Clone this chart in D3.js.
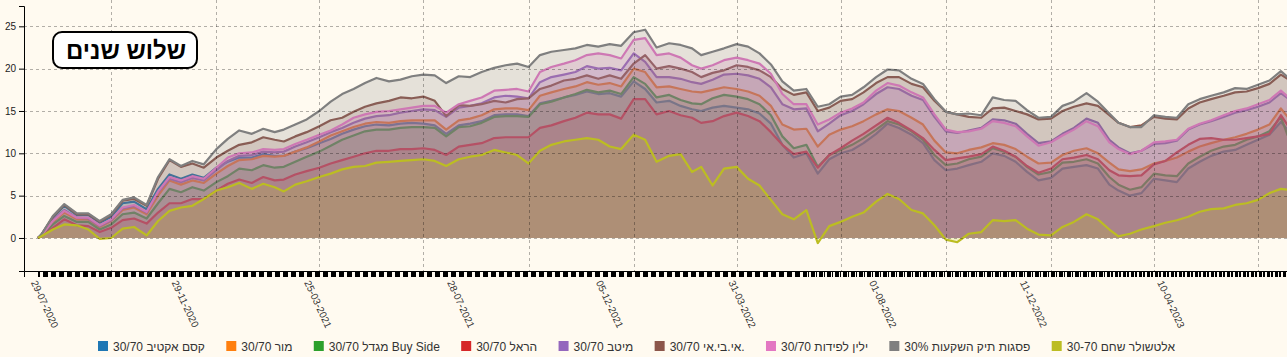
<!DOCTYPE html>
<html><head><meta charset="utf-8">
<script src="https://cdn.jsdelivr.net/npm/d3@7"></script>
<style>
body{margin:0;background:#fffaf0;overflow:hidden}
svg{display:block;font-family:"Liberation Sans",Arial,sans-serif}
</style>
</head><body>
<svg id="c" width="1287" height="357"></svg>
<script>
// ---------- DATA ----------
const dates = ["2020-07-29","2020-08-01","2020-08-11","2020-08-21","2020-09-01","2020-09-11","2020-09-21","2020-10-01","2020-10-11","2020-10-21",
"2020-11-01","2020-11-11","2020-11-21","2020-12-01","2020-12-11","2020-12-21","2021-01-01","2021-01-11","2021-01-21","2021-02-01",
"2021-02-11","2021-02-21","2021-03-01","2021-03-11","2021-03-21","2021-04-01","2021-04-11","2021-04-21","2021-05-01","2021-05-11",
"2021-05-21","2021-06-01","2021-06-11","2021-06-21","2021-07-01","2021-07-11","2021-07-21","2021-08-01","2021-08-11","2021-08-21",
"2021-09-01","2021-09-11","2021-09-21","2021-10-01","2021-10-11","2021-10-21","2021-11-01","2021-11-11","2021-11-21","2021-12-01",
"2021-12-11","2021-12-21","2022-01-01","2022-01-11","2022-01-21","2022-02-01","2022-02-11","2022-02-21","2022-03-01","2022-03-11",
"2022-03-21","2022-04-01","2022-04-11","2022-04-21","2022-05-01","2022-05-11","2022-05-21","2022-06-01","2022-06-11","2022-06-21",
"2022-07-01","2022-07-11","2022-07-21","2022-08-01","2022-08-11","2022-08-21","2022-09-01","2022-09-11","2022-09-21","2022-10-01",
"2022-10-11","2022-10-21","2022-11-01","2022-11-11","2022-11-21","2022-12-01","2022-12-11","2022-12-21","2023-01-01","2023-01-11",
"2023-01-21","2023-02-01","2023-02-11","2023-02-21","2023-03-01","2023-03-11","2023-03-21","2023-04-01","2023-04-11","2023-04-21",
"2023-05-01","2023-05-11","2023-05-21","2023-06-01","2023-06-11","2023-06-21","2023-07-01","2023-07-11","2023-07-21","2023-07-27"];

const seriesNames = ["30/70 קסם אקטיב","30/70 מור","30/70 מגדל Buy Side","30/70 הראל","30/70 מיטב",
"30/70 אי.בי.אי.","30/70 ילין לפידות","30% פסגות תיק השקעות","30-70 אלטשולר שחם"];

const kesem = [0,0.4,2.4,3.8,2.7,2.7,1.8,2.5,4.1,4.3,
3.4,5.8,7.5,7.0,7.5,7.1,8.3,9.0,9.5,9.5,
9.9,9.7,9.7,10.2,10.6,11.2,11.7,12.3,12.8,13.2,
13.4,13.3,13.5,13.6,13.5,13.3,12.3,13.3,13.5,13.8,
14.5,14.6,14.6,14.4,15.9,16.2,16.6,16.9,17.3,17.0,
17.1,16.7,18.5,17.6,16.0,16.2,15.6,15.2,15.0,15.4,
15.6,15.4,15.2,14.7,13.5,11.0,9.5,10.0,7.6,9.3,
10.0,10.4,11.2,12.3,13.5,13.0,12.2,11.2,9.2,8.0,
8.2,8.6,9.0,10.0,9.7,9.0,7.8,6.8,7.1,8.2,
8.4,8.6,8.2,6.3,5.6,5.0,5.3,7.0,6.8,6.6,
8.2,9.0,9.7,10.2,10.4,11.0,11.6,12.2,13.7,12.8];

const mor = [0,0.3,1.9,3.0,2.2,2.2,1.3,2.0,3.3,3.6,
2.8,5.0,6.8,6.3,6.8,6.5,7.6,8.5,9.2,9.3,
9.7,9.6,9.7,10.2,10.7,11.4,12.1,12.6,13.1,13.5,
13.7,13.6,13.8,13.9,13.9,13.9,12.8,13.9,14.1,14.5,
15.2,15.3,15.3,15.1,16.8,17.2,17.6,17.9,18.4,18.1,
18.3,17.9,20.0,19.6,17.8,17.9,17.6,17.3,17.2,17.5,
17.8,17.6,17.3,16.8,15.6,13.4,12.8,12.9,10.8,12.2,
12.8,13.2,13.8,14.6,15.2,15.0,14.2,13.4,11.5,10.1,
10.0,10.4,10.7,11.2,11.0,10.5,9.6,8.8,8.9,9.8,
10.3,10.6,10.0,8.9,8.1,7.9,8.1,8.8,9.1,9.5,
10.2,10.8,11.2,11.6,11.9,12.3,12.8,13.4,15.3,14.3];

const migdal = [0,0.2,1.6,2.6,1.9,1.9,1.0,1.6,2.8,3.0,
2.3,4.1,5.8,5.4,6.0,5.6,6.6,7.3,8.2,8.0,
8.6,8.3,8.4,9.0,9.6,10.2,10.9,11.6,12.1,12.6,
12.8,12.8,13.0,13.1,13.1,13.0,12.0,13.1,13.2,13.6,
14.3,14.4,14.4,14.3,15.8,16.1,16.6,17.0,17.5,17.2,
17.4,17.0,19.0,18.2,16.6,16.9,16.3,15.9,15.8,16.5,
16.9,16.7,16.4,15.8,14.5,12.0,10.6,11.0,8.4,9.8,
10.4,11.0,11.8,12.8,13.8,13.4,12.6,11.6,9.8,8.6,
8.8,9.3,9.6,10.6,10.2,9.6,8.4,7.5,7.8,8.9,
9.0,9.3,8.8,7.2,6.3,5.7,6.0,7.6,7.4,7.3,
8.8,9.6,10.3,10.8,11.0,11.6,12.0,12.6,14.3,12.1];

const harel = [0,0.2,1.2,2.2,1.5,1.4,0.7,1.2,2.1,2.3,
1.7,3.0,4.1,4.1,4.6,4.6,5.6,6.4,6.9,6.5,
7.2,6.8,6.9,7.5,7.9,8.3,8.8,9.2,9.6,10.0,
10.3,10.3,10.5,10.5,10.6,10.4,9.8,10.8,11.0,11.2,
11.8,11.9,11.9,11.9,13.0,13.3,13.8,14.2,14.8,14.6,
14.6,14.1,16.4,16.4,14.6,15.0,14.5,14.2,13.6,13.8,
14.4,14.8,14.4,13.8,12.5,11.0,9.9,10.2,8.3,9.8,
10.6,11.5,12.3,13.3,14.2,13.6,12.7,11.8,10.4,9.2,
9.4,9.6,9.9,10.8,10.3,9.6,8.5,7.7,8.2,9.3,
9.5,9.8,9.3,8.0,7.4,7.3,7.4,8.7,9.1,10.1,
11.0,11.7,11.8,11.6,11.6,11.8,12.0,12.3,14.5,13.3];

const meitav = [0,0.3,2.1,3.3,2.4,2.3,1.4,2.1,3.5,3.8,
3.0,5.4,7.0,6.6,7.1,6.8,8.0,9.1,9.7,9.8,
10.2,10.1,10.2,10.8,11.3,11.9,12.5,13.0,13.6,14.1,
14.4,14.5,14.8,15.0,15.2,15.1,14.3,15.4,15.6,15.9,
16.6,16.8,16.7,16.5,18.4,19.0,19.3,19.6,20.3,20.0,
20.1,19.8,21.8,20.8,19.0,19.0,18.8,18.4,18.2,18.7,
19.3,19.4,19.2,18.8,17.8,15.8,15.2,15.3,12.6,13.5,
14.5,15.0,15.8,17.0,17.8,17.6,16.8,16.3,14.3,12.6,
12.4,12.7,13.0,14.0,13.9,13.5,12.3,11.2,11.4,12.3,
13.0,14.1,13.6,11.6,10.7,10.0,10.3,11.1,11.2,11.5,
12.8,13.4,13.8,14.3,14.8,15.1,15.5,16.0,17.1,16.5];

const ibi = [0,0.4,2.5,3.9,2.8,2.8,1.9,2.7,4.4,4.6,
3.8,7.0,9.2,8.4,8.8,8.3,9.5,10.3,11.0,11.3,
11.9,11.6,11.4,12.0,12.5,13.2,13.9,14.2,14.9,15.5,
15.9,16.2,16.6,16.5,16.7,16.2,14.4,15.7,15.6,15.8,
16.2,16.0,16.4,16.5,17.6,18.0,18.6,18.8,19.2,18.8,
19.2,18.8,20.6,21.6,20.0,20.3,20.0,19.6,19.0,19.5,
19.8,20.4,20.2,19.8,19.0,17.6,16.9,17.2,15.0,15.4,
16.2,16.4,17.2,18.3,19.0,19.0,18.2,17.8,16.2,14.9,
14.6,14.3,14.2,15.3,15.4,15.0,14.6,14.0,14.1,15.0,
15.5,15.9,15.6,14.5,13.6,13.1,13.3,14.3,14.1,14.0,
15.3,16.0,16.4,16.8,17.2,17.3,17.7,18.2,19.3,18.8];

const yelin = [0,0.3,2.0,3.2,2.4,2.4,1.5,2.2,3.6,3.9,
3.1,5.5,7.2,6.8,7.3,7.0,8.3,9.5,10.0,10.1,
10.5,10.4,10.5,11.1,11.6,12.2,12.7,13.4,14.2,14.6,
14.9,15.0,15.2,15.4,15.6,15.6,14.8,15.8,16.2,16.6,
17.4,17.5,17.6,17.3,19.6,20.2,20.6,21.0,21.6,21.8,
21.6,21.2,23.4,23.6,21.6,21.8,21.3,20.4,20.0,20.4,
21.0,21.3,21.0,20.6,19.4,17.0,15.8,15.8,13.4,14.0,
14.8,15.3,16.0,17.4,18.3,18.0,17.2,16.6,14.6,12.8,
12.5,12.6,12.9,13.8,13.6,13.2,12.0,10.9,11.3,12.1,
12.8,13.8,13.2,11.3,10.5,9.9,10.3,11.3,11.4,11.6,
12.9,13.5,13.9,14.5,15.0,15.3,15.8,16.3,17.4,16.7];

const psagot = [0,0.4,2.6,4.0,2.9,2.9,2.0,2.8,4.5,4.8,
3.9,7.2,9.3,8.5,9.1,8.7,10.5,11.7,12.7,12.3,
12.9,12.5,12.8,13.4,14.0,15.0,16.1,17.0,17.6,18.3,
18.9,18.5,18.7,19.1,19.3,19.2,18.3,19.1,19.0,19.6,
20.1,20.4,20.6,20.2,21.6,22.0,22.2,22.4,22.8,22.6,
22.9,22.7,24.3,24.6,22.5,23.0,22.8,22.4,21.6,22.0,
22.4,22.9,22.6,21.8,20.5,18.5,17.4,17.6,15.5,15.8,
16.7,16.9,17.8,19.0,19.9,19.8,18.8,18.2,16.4,14.9,
14.6,14.7,14.5,16.6,16.3,16.2,15.1,14.2,14.3,15.6,
16.1,17.1,16.1,14.7,13.6,13.1,13.1,14.5,14.3,14.2,
15.8,16.4,16.8,17.2,17.7,17.6,18.1,18.6,19.7,19.0];

const altshuler = [0,0.2,1.0,1.6,1.5,1.0,-0.1,0.0,1.1,1.3,
0.3,2.0,3.2,3.6,3.8,4.6,5.6,6.0,6.5,5.8,
6.4,6.0,5.5,6.3,6.7,7.2,7.6,8.1,8.4,8.5,
8.9,9.0,9.1,9.2,9.3,9.1,8.5,9.3,9.6,9.8,
10.4,10.1,9.8,8.8,10.3,11.0,11.4,11.6,11.8,11.6,
10.8,10.5,12.2,11.6,9.0,9.7,9.9,7.8,8.4,6.2,
8.2,8.4,7.0,6.2,4.5,2.8,2.2,3.3,-0.6,1.4,
1.9,2.5,3.0,4.3,5.2,4.6,3.3,2.9,1.5,-0.2,
-0.5,0.5,0.7,2.1,2.0,2.1,1.1,0.4,0.3,1.3,
1.9,2.8,2.2,1.0,0.2,0.5,1.0,1.4,1.8,2.1,
2.5,3.1,3.4,3.5,3.9,4.1,4.5,5.3,5.8,5.7];

const seriesValues = [kesem, mor, migdal, harel, meitav, ibi, yelin, psagot, altshuler];
const yTicks = [0,5,10,15,20,25];
const xLabelDates = ["2020-07-29","2020-11-29","2021-03-25","2021-07-28","2021-12-05","2022-03-31","2022-08-01","2022-12-11","2023-04-10"];
const titleText = "שלוש שנים";

// ---------- CHART ----------
const W = 1287, H = 357;
const colors = d3.schemeCategory10;
const parse = d3.timeParse("%Y-%m-%d");
const fmt = d3.timeFormat("%d-%m-%Y");
const D = dates.map(parse);

const svg = d3.select("#c");
svg.append("rect").attr("width",W).attr("height",H).attr("fill","#fffaf0");

const x0 = d3.scaleTime().domain([parse("2020-07-29"), parse("2023-07-01")]).range([38,1258]);
const x = d3.scaleTime().domain([x0.invert(24), x0.invert(1300)]).range([24,1300]);
const y = d3.scaleLinear().domain([-3.9, 27.4]).range([271, 6]);

const plot = svg.append("g");
seriesValues.forEach((vals, i) => {
  const pts = vals.map((v, j) => [D[j], v]);
  plot.append("path")
    .attr("d", d3.area().x(d => x(d[0])).y0(y(0)).y1(d => y(d[1]))(pts))
    .attr("fill", colors[i]).attr("fill-opacity", 0.2).attr("stroke", "none");
  plot.append("path")
    .attr("d", d3.line().x(d => x(d[0])).y(d => y(d[1]))(pts))
    .attr("fill", "none").attr("stroke", colors[i]).attr("stroke-width", 2.2)
    .attr("stroke-linejoin", "round");
});

// grid
const grid = svg.append("g").attr("stroke", "#000").attr("stroke-opacity", 0.3)
  .attr("stroke-dasharray", "3,3").attr("stroke-width", 1);
yTicks.forEach(t => grid.append("line").attr("x1", 24).attr("x2", W)
  .attr("y1", Math.round(y(t)) + 0.5).attr("y2", Math.round(y(t)) + 0.5));
x.ticks(d3.timeMonth.every(3)).forEach(t => grid.append("line")
  .attr("x1", Math.round(x(t)) + 0.5).attr("x2", Math.round(x(t)) + 0.5)
  .attr("y1", 0).attr("y2", 271));

// y axis
const ya = svg.append("g").attr("transform", "translate(24,0)")
  .call(d3.axisLeft(y).tickValues(yTicks).tickSize(5));
ya.selectAll("text").attr("font-size", 10).attr("fill", "#222");

// x axis with a tick for every trading day (Sun-Thu)
const tradingDays = d3.timeDay.range(D[0], d3.timeDay.offset(D[D.length - 1], 1))
  .filter(d => d.getDay() <= 4);
const xa = svg.append("g").attr("transform", "translate(0,271)")
  .call(d3.axisBottom(x).tickValues(tradingDays).tickFormat("").tickSize(6));
xa.selectAll(".tick line").attr("stroke", "#000").attr("shape-rendering", "crispEdges");

svg.append("g").selectAll("text").data(xLabelDates.map(parse)).join("text")
  .attr("transform", d => `translate(${x(d) - 4},281) rotate(65)`)
  .attr("dy", "0.35em").attr("font-size", 10).attr("fill", "#333")
  .text(d => fmt(d));

// title box
const tg = svg.append("g");
tg.append("rect").attr("x", 53).attr("y", 32).attr("width", 144).attr("height", 36)
  .attr("rx", 9).attr("fill", "#fff").attr("stroke", "#000").attr("stroke-width", 2);
tg.append("text").attr("x", 126).attr("y", 58.5).attr("text-anchor", "middle")
  .attr("font-size", 24).attr("font-weight", "bold").attr("fill", "#000")
  .attr("direction", "rtl").text(titleText);

// legend: spread between the reference's left and right edges
const lg = svg.append("g");
const items = seriesNames.map((n, i) => {
  const g = lg.append("g");
  g.append("rect").attr("x", 0).attr("y", 341).attr("width", 10).attr("height", 10).attr("fill", colors[i]);
  const t = g.append("text").attr("x", 15).attr("y", 350.5).attr("font-size", 12).attr("fill", "#333").text(n);
  return {g, w: 15 + t.node().getComputedTextLength()};
});
const sumW = d3.sum(items, d => d.w);
const gap = (1175 - 98 - sumW) / (items.length - 1);
let cx = 98;
items.forEach(it => { it.g.attr("transform", `translate(${cx},0)`); cx += it.w + gap; });
</script>
</body></html>
